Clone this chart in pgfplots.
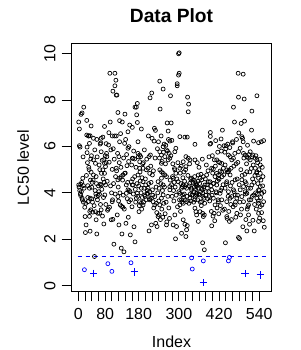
\documentclass[border=0pt]{standalone}
\usepackage{fontspec}
\setmainfont{Liberation Sans}
\usepackage{pgfplots}
\pgfplotsset{compat=1.18}
\begin{document}
\begin{tikzpicture}[x=1pt,y=1pt]
\useasboundingbox (0,0) rectangle (300,350);
\begin{axis}[
  at={(71.3pt,58.3pt)}, anchor=south west,
  scale only axis, width=200.4pt, height=248.4pt,
  xmin=-21.16, xmax=577.16, ymin=-0.256, ymax=10.44,
  axis line style={line width=0.8pt},
  xtick={0,20,...,540},
  xticklabels={0,,,,80,,,,,180,,,,,,300,,,,,,420,,,,,,540},
  ytick={0,2,...,10},
  tick align=outside, major tick length=9.6pt,
  tick style={black, line width=0.8pt},
  xtick pos=lower, ytick pos=left,
  /pgf/number format/assume math mode=true,
  ticklabel style={font=\fontsize{16}{19}\selectfont},
  xticklabel style={anchor=base, yshift=-18pt},
  yticklabel style={xshift=-6.2pt, rotate=90, anchor=base},
  title={Data Plot},
  title style={at={(axis description cs:0.5,1.0596)}, anchor=base, yshift=0pt, font=\bfseries\fontsize{19.2}{23}\selectfont},
  xlabel={Index},
  xlabel style={at={(axis description cs:0.5,-0.2238)}, anchor=base, font=\fontsize{16}{19}\selectfont},
  ylabel={LC50 level},
  ylabel style={at={(axis description cs:-0.2111,0.5)}, anchor=base, font=\fontsize{16}{19}\selectfont},
]
\addplot[blue, line width=0.8pt, dash pattern=on 4pt off 4pt] coordinates {(-2,1.25) (561,1.25)};
\addplot[black, only marks, mark=o, mark size=2pt, mark options={line width=0.7pt, black}] table {
x y
16 7.69
11 7.44
8 7.38
1 7.05
25 7.12
38 6.88
3 6.75
25 6.49
31 6.45
35 6.46
3 6.03
5 5.97
26 5.97
26 5.73
37 5.46
31 5.10
38 4.89
13 4.63
1 4.34
7 4.37
15 4.31
28 4.31
17 4.20
33 4.20
9 4.05
7 3.88
11 3.77
28 3.80
35 3.77
15 3.60
19 3.38
37 3.27
20 2.98
33 2.99
23 2.62
21 2.29
35 2.35
2 4.25
4 4.10
6 3.95
10 4.45
12 3.70
14 5.55
22 3.55
24 4.75
27 5.30
29 3.62
30 6.45
32 5.00
34 3.20
36 4.55
45 6.35
55 6.30
68 6.35
73 6.40
65 6.10
33 6.13
68 5.77
45 5.42
51 5.27
45 4.77
53 4.70
69 4.84
73 4.99
40 4.24
65 4.37
68 4.34
63 3.94
59 3.88
53 3.84
40 3.74
68 3.27
51 3.19
43 3.17
58 3.12
63 3.12
53 2.84
76 2.66
55 2.23
48 1.26
39 5.60
41 4.45
42 3.60
44 4.55
47 3.45
49 5.85
50 4.10
52 3.95
54 4.40
56 5.55
57 3.70
60 4.30
61 4.05
62 5.20
64 5.00
66 3.50
67 6.15
70 4.15
71 5.40
72 3.00
94 9.15
109 9.15
112 8.85
109 8.61
103 8.38
113 8.21
115 8.21
95 7.05
78 6.86
91 6.59
101 6.45
108 6.45
83 6.12
90 6.06
85 5.56
76 5.43
92 5.32
83 5.30
78 5.27
81 5.13
101 5.01
78 4.84
81 4.34
79 3.91
101 3.62
93 3.38
89 3.31
98 2.84
103 2.86
106 1.79
74 4.60
75 3.80
77 4.45
80 5.60
82 3.50
84 5.70
86 4.50
87 3.25
96 4.30
97 5.85
99 4.00
102 3.70
104 5.90
105 4.40
107 5.45
110 3.95
111 4.70
118 7.46
139 7.39
123 7.11
131 7.05
148 6.63
113 6.45
123 6.20
138 6.13
151 5.99
148 5.92
121 5.56
145 5.17
113 5.06
138 4.84
133 4.77
128 4.70
123 4.63
118 4.56
143 4.34
148 4.13
143 3.98
118 3.84
151 3.62
125 3.48
129 3.42
133 3.38
116 3.05
142 2.69
121 2.62
130 2.23
128 1.62
136 1.46
114 4.95
117 5.70
119 4.25
120 3.65
122 5.30
124 4.00
126 6.55
127 5.10
132 4.55
134 3.90
135 5.50
137 3.30
140 4.85
141 6.30
144 5.65
146 3.75
147 4.45
149 2.95
150 5.35
152 4.10
153 6.92
161 6.82
176 7.85
169 7.69
173 7.69
174 7.36
176 7.03
188 6.75
178 6.20
161 5.49
178 5.70
183 5.63
186 5.56
163 5.49
168 5.46
183 5.34
183 5.06
193 5.06
161 4.34
163 4.34
188 4.20
183 3.62
188 3.55
193 3.48
181 3.19
166 2.54
155 2.19
169 1.89
176 3.98
173 3.77
158 4.48
168 4.70
178 4.77
185 4.51
154 4.05
156 3.70
159 5.20
160 3.40
162 4.60
164 3.95
165 5.80
170 4.15
171 3.60
172 5.10
175 4.40
177 3.85
179 5.55
180 4.30
182 3.45
184 4.90
187 4.00
189 3.30
190 4.65
191 3.80
192 5.25
219 8.30
214 8.09
244 7.61
227 6.78
230 6.69
226 6.23
215 5.63
211 5.56
208 5.06
203 4.99
213 4.84
221 4.77
193 4.48
201 4.34
208 4.20
221 4.13
213 4.05
205 3.98
198 3.91
228 3.84
218 3.77
213 3.70
223 3.62
233 3.55
228 3.48
241 3.05
238 2.98
231 2.69
218 2.62
235 2.55
211 2.36
194 5.30
195 3.60
196 4.20
197 5.85
199 3.85
200 4.60
202 3.70
204 5.45
206 4.10
207 3.95
209 6.45
210 4.40
212 3.75
216 5.15
217 4.45
220 6.35
222 3.90
224 4.95
225 3.35
229 5.50
232 4.25
243 8.81
253 8.47
265 7.01
268 6.66
273 6.23
253 5.99
263 5.85
243 5.77
248 5.63
258 5.56
273 5.49
268 5.42
248 5.27
243 4.99
248 4.91
253 4.84
258 4.77
263 4.70
248 4.63
238 4.48
253 4.34
273 4.27
241 4.20
253 3.91
248 3.77
243 3.48
263 2.62
283 2.62
234 3.15
236 5.90
237 4.00
239 6.20
240 3.65
242 5.50
245 2.85
246 4.40
247 6.45
249 3.30
250 5.35
251 4.10
252 2.95
254 5.75
255 3.55
256 6.10
257 4.25
259 3.10
260 5.25
261 6.05
262 3.60
264 2.75
266 5.80
267 3.85
269 6.30
270 3.35
271 5.70
272 2.90
301 10.03
299 9.99
301 9.15
299 9.07
295 8.70
295 8.61
275 8.18
277 7.01
303 6.42
318 6.40
279 6.26
291 5.92
288 5.77
313 5.34
303 5.06
288 4.99
291 4.84
283 4.63
298 4.48
313 4.34
310 4.27
308 4.20
273 4.13
303 3.98
311 3.91
308 3.70
313 3.55
303 3.48
288 3.05
313 2.84
293 2.55
308 2.26
321 2.12
290 2.02
274 4.55
276 5.60
278 4.35
280 3.85
281 4.70
282 5.25
284 4.10
285 3.65
286 4.45
287 5.05
289 4.25
292 3.90
294 4.60
296 3.40
297 5.30
300 4.05
302 3.70
304 4.85
305 3.20
306 4.40
307 5.15
309 3.60
312 4.65
326 8.12
329 7.82
328 7.49
325 6.40
348 6.09
321 5.56
328 5.49
333 5.42
321 5.13
348 5.42
338 4.63
343 4.56
348 4.48
333 4.41
351 4.34
318 4.27
323 4.20
338 4.13
345 4.05
353 3.98
341 3.91
333 3.77
348 3.70
323 3.62
348 3.34
351 3.19
353 3.05
318 2.65
325 2.59
323 2.41
314 3.80
315 4.90
316 3.95
317 4.50
319 3.70
320 5.00
322 4.35
324 3.85
327 4.75
330 3.55
331 4.30
332 5.25
334 3.95
335 4.60
336 3.65
337 4.20
339 3.90
342 4.45
344 3.60
346 4.25
347 4.70
349 3.85
350 4.15
352 4.40
358 4.77
363 4.63
368 4.56
373 4.70
383 4.77
378 4.34
358 4.20
365 4.05
371 3.98
361 3.91
375 3.77
368 3.62
363 3.19
371 3.12
376 3.05
373 2.98
358 2.77
371 1.85
376 1.55
353 3.91
388 4.48
385 4.20
381 4.05
391 3.84
368 4.20
354 4.30
355 5.30
356 3.70
357 4.50
359 3.95
360 5.10
362 4.40
364 3.60
366 4.80
367 3.45
369 4.15
370 5.45
372 3.85
374 4.25
377 3.55
379 4.60
380 3.90
382 5.20
384 4.35
386 3.75
387 4.95
389 4.05
390 5.55
392 3.65
394 6.60
394 6.43
395 6.13
393 6.10
430 6.70
426 6.32
406 5.42
413 5.42
418 5.34
428 5.27
403 5.03
413 4.84
418 4.77
423 4.94
428 4.89
398 5.06
408 4.70
418 4.63
393 4.48
403 4.41
413 4.34
428 4.20
398 4.13
411 4.05
423 3.98
403 3.77
418 3.62
428 3.70
408 3.48
398 2.58
405 3.12
396 4.30
397 3.20
399 3.90
400 5.60
401 4.85
402 3.00
404 4.40
407 2.80
409 5.15
410 6.25
412 4.00
414 3.35
415 4.52
416 5.75
417 3.70
419 3.10
420 4.58
421 6.00
422 5.30
424 3.45
425 4.10
427 5.80
429 4.70
431 3.25
432 4.35
463 7.69
466 7.05
460 6.20
441 6.03
435 6.03
448 5.63
453 5.56
463 5.49
458 5.42
438 5.20
433 5.06
443 4.99
448 4.91
453 4.77
468 4.56
443 4.48
438 4.20
463 4.13
448 4.05
468 3.91
453 3.77
443 3.62
458 3.84
468 3.48
473 3.77
439 1.85
451 2.77
443 2.98
434 4.78
436 3.30
437 5.75
440 5.90
442 4.40
444 2.90
445 4.90
446 6.10
447 3.85
449 3.20
450 4.98
452 5.95
454 4.30
455 3.50
456 5.06
457 2.85
459 4.45
461 6.15
462 3.40
464 5.15
465 4.05
467 5.70
469 3.60
470 2.95
471 5.25
472 6.30
477 9.15
492 9.11
478 8.12
495 8.04
496 7.09
486 6.99
479 6.58
488 6.42
492 6.20
483 5.92
478 5.77
493 5.70
498 5.63
503 5.56
508 5.49
513 5.42
503 4.91
498 4.48
488 4.56
493 4.27
483 4.13
498 4.05
503 3.98
488 3.84
493 3.62
508 3.48
473 3.12
508 3.05
511 2.65
491 2.54
478 2.08
481 2.03
503 2.36
474 4.60
475 3.90
476 5.31
480 4.35
482 3.60
484 3.05
485 5.00
487 3.30
489 4.75
490 6.35
494 5.50
497 4.80
499 3.95
500 2.85
501 4.40
502 5.25
504 3.30
505 6.05
506 3.40
507 4.20
509 5.65
510 3.70
512 4.90
533 8.18
518 7.52
517 6.70
523 6.23
538 6.16
546 6.20
553 6.25
513 5.77
521 5.63
518 5.56
528 5.49
533 5.42
543 5.20
528 5.06
533 4.91
543 4.84
551 4.70
538 4.63
518 4.34
543 4.27
538 4.13
548 3.98
523 3.91
533 3.77
553 3.62
538 3.55
548 3.48
543 3.41
538 3.12
541 2.91
538 2.77
521 2.82
525 2.36
555 2.52
514 4.20
515 3.70
516 5.05
519 3.85
520 4.60
522 5.20
524 4.45
526 3.50
527 4.75
529 4.00
530 5.60
531 3.30
532 4.85
534 3.95
535 5.30
536 4.40
537 3.65
539 5.00
540 4.10
542 5.45
544 3.80
545 4.55
547 3.15
549 5.10
550 4.30
552 2.80
554 4.05
};
\addplot[blue, only marks, mark=o, mark size=2pt, mark options={line width=0.7pt, blue}] table {
x y
18 0.69
88 0.95
100 0.62
157 0.99
338 1.20
340 0.72
373 1.07
448 1.07
451 1.22
};
\addplot[blue, only marks, mark=+, mark size=3.7pt, mark options={line width=0.8pt, blue}] table {
x y
46 0.54
167 0.60
373 0.14
498 0.52
543 0.47
};
\end{axis}
\end{tikzpicture}
\end{document}
